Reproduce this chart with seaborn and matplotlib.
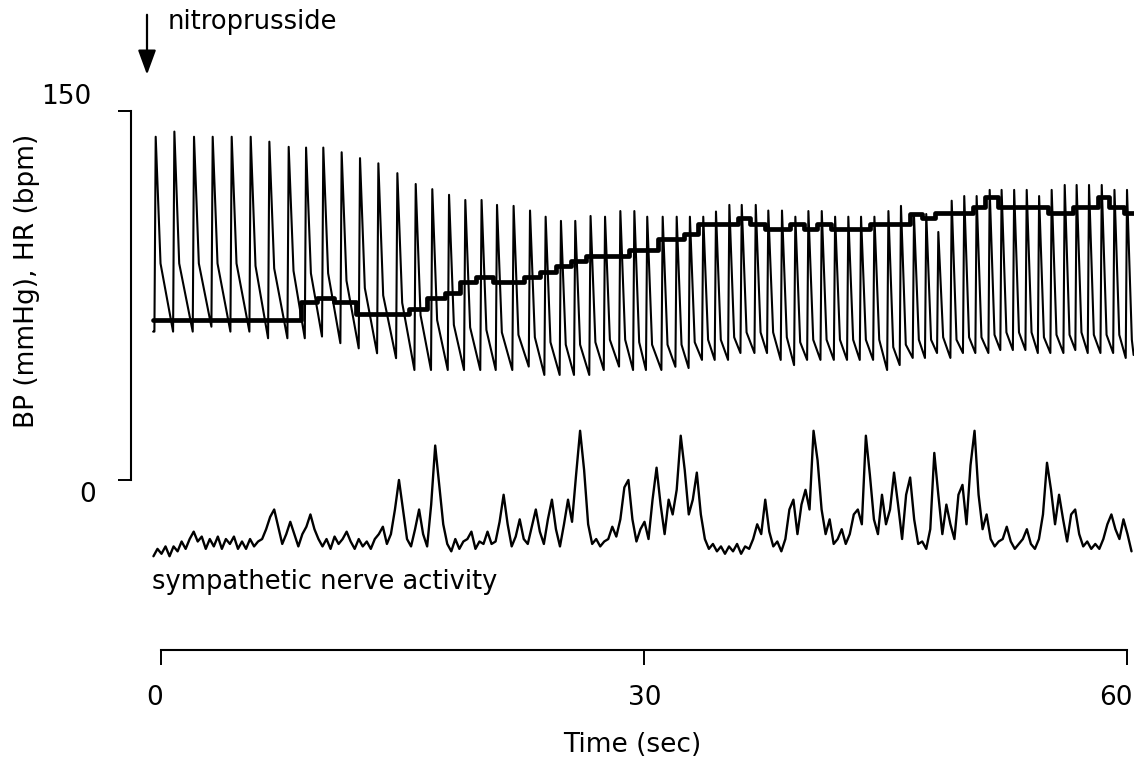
import numpy as np
import matplotlib
matplotlib.use("Agg")
import matplotlib.pyplot as plt
import matplotlib.transforms as mtransforms
import seaborn as sns

# 血壓 BP: 每一拍的收縮峰時間 (秒) 與數值 (mmHg)
beat_t = [-0.36, 0.80, 2.02, 3.18, 4.36, 5.54, 6.70, 7.90, 8.98, 10.05,
          11.19, 12.33, 13.47, 14.65, 15.79, 16.82, 17.86, 18.87, 19.88, 20.84,
          21.87, 22.89, 23.86, 24.81, 25.70, 26.65, 27.55, 28.50, 29.37, 30.17,
          31.13, 32.00, 32.82, 33.65, 34.44, 35.27, 36.04, 36.91, 37.69, 38.54,
          39.37, 40.18, 41.01, 41.84, 42.66, 43.45, 44.28, 45.15, 45.93, 46.74,
          47.50, 48.25, 49.08, 49.86, 50.63, 51.44, 52.18, 52.96, 53.74, 54.51,
          55.29, 56.10, 56.84, 57.61, 58.40, 59.19, 59.97]
bp_sys = [139.5, 141.6, 139.5, 139.5, 139.5, 139.5, 137.5, 135.4, 135.1, 135.1,
          133.2, 130.8, 128.7, 124.7, 120.3, 118.2, 115.9, 113.8, 113.8, 111.8,
          111.4, 109.5, 107.0, 105.3, 105.3, 107.3, 107.0, 109.3, 109.3, 107.0,
          107.0, 107.0, 107.0, 107.0, 109.1, 111.8, 111.8, 111.8, 109.5, 109.5,
          107.0, 109.3, 109.3, 107.0, 107.0, 107.0, 107.0, 109.3, 111.4, 107.3,
          108.1, 100.8, 113.5, 115.4, 115.4, 117.9, 117.9, 117.9, 117.9, 115.4,
          117.9, 119.9, 119.9, 119.9, 119.9, 117.9, 117.9]
bp_notch = [88, 88, 88, 88, 88, 87, 86, 85, 84, 84,
            81, 78, 75, 72, 67, 65, 63, 62, 61, 60,
            59, 58, 56, 55, 55, 56, 57, 57, 56, 55,
            55, 55, 56, 57, 57, 58, 60, 60, 60, 58,
            56, 57, 57, 57, 57, 57, 57, 54, 55, 57,
            57, 58, 57, 58, 58, 59, 60, 60, 60, 58,
            59, 59, 60, 59, 59, 59, 57]
bp_dia = [60.3, 60.3, 60.3, 62.3, 60.3, 60.3, 57.6, 57.6, 57.6, 58.3,
          55.6, 53.5, 51.5, 49.5, 44.7, 44.7, 44.7, 44.7, 44.7, 44.7,
          44.7, 46.1, 42.7, 42.7, 42.7, 42.7, 44.7, 46.1, 44.7, 44.7,
          44.7, 46.0, 45.5, 48.8, 48.8, 48.8, 51.6, 51.6, 51.6, 48.8,
          46.7, 48.8, 48.8, 48.8, 48.8, 48.8, 48.8, 44.7, 46.7, 49.6,
          49.6, 51.6, 49.6, 51.6, 51.6, 51.6, 52.8, 52.8, 52.8, 51.6,
          51.6, 51.6, 52.8, 51.6, 51.6, 51.6, 49.6]
bp_end = (60.38, 50.8)

# 心跳 HR: 階梯線 (秒, bpm)
hr_edges = [-0.50, 8.64, 9.68, 10.72, 12.06, 15.38, 16.52, 17.60, 18.55, 19.53,
            20.58, 22.53, 23.54, 24.50, 25.44, 26.34, 29.06, 30.83, 32.48, 33.35,
            35.80, 36.54, 37.46, 39.01, 39.93, 40.73, 41.56, 43.99, 46.47, 47.23,
            48.03, 50.40, 51.18, 51.93, 55.04, 56.63, 58.15, 58.86, 59.76, 60.38]
hr_level = [65.0, 72.2, 73.9, 72.2, 67.6, 69.4, 73.9, 76.0, 80.4, 82.5,
            80.5, 82.5, 84.7, 87.0, 89.0, 91.2, 93.5, 97.8, 100.0, 104.2,
            106.4, 104.2, 102.2, 104.2, 102.2, 104.2, 102.2, 104.2, 108.3, 106.4,
            108.4, 110.9, 114.9, 110.9, 108.4, 110.9, 114.9, 110.9, 108.4]

# 交感神經活性: 從 -0.5 秒起, 每 0.25 秒一點, 每列 1 秒
sna_t0 = -0.5
sna_dt = 0.25
sna_rows = [
    [-31, -28, -30, -27], [-31, -27, -29, -25], [-28, -24, -21, -25], [-23, -28, -24, -27],
    [-23, -28, -24, -26], [-23, -28, -25, -28], [-24, -27, -25, -24], [-20, -15, -12, -19],
    [-26, -22, -17, -22], [-27, -22, -19, -14], [-20, -24, -27, -24], [-28, -23, -26, -24],
    [-21, -25, -28, -24], [-27, -25, -28, -24], [-22, -19, -26, -22], [-12, 0, -12, -24],
    [-27, -20, -12, -22], [-27, -10, 14, -2], [-18, -26, -29, -24], [-28, -25, -24, -21],
    [-28, -25, -26, -21], [-26, -25, -17, -6], [-18, -27, -23, -16], [-24, -26, -19, -12],
    [-21, -26, -16, -8], [-20, -27, -18, -8], [-17, 2, 20, 4], [-18, -26, -24, -27],
    [-25, -24, -19, -23], [-16, -3, 0, -16], [-25, -20, -17, -24], [-8, 5, -10, -22],
    [-8, -14, -4, 18], [4, -14, -8, 3], [-14, -24, -28, -26], [-29, -27, -30, -27],
    [-29, -26, -30, -27], [-28, -24, -18, -22], [-8, -21, -27, -25], [-29, -24, -12, -8],
    [-22, -10, -4, -12], [20, 8, -12, -22], [-16, -26, -24, -20], [-26, -22, -14, -12],
    [-18, 18, 2, -16], [-22, -6, -18, -12], [3, -10, -24, -6], [1, -16, -26, -25],
    [-28, -20, 11, -6], [-22, -10, -18, -24], [-6, -2, -18, 6], [20, -6, -20, -14],
    [-24, -27, -25, -24], [-19, -25, -28, -26], [-24, -20, -26, -28], [-24, -14, 7, -4],
    [-18, -6, -16, -25], [-14, -12, -22, -27], [-25, -28, -26, -28], [-24, -18, -14, -20],
    [-24, -16, -22, -29],
]

# 組合 BP 波形: 起點 -> 收縮峰 -> 切跡 -> 下一拍起點
bp_x = [-0.52]
bp_y = [bp_dia[0]]
for i in range(len(beat_t)):
    bp_x += [beat_t[i] - 0.08, beat_t[i], beat_t[i] + 0.30]
    bp_y += [bp_dia[i], bp_sys[i], bp_notch[i]]
bp_x.append(bp_end[0])
bp_y.append(bp_end[1])

hr_y = hr_level + [hr_level[-1]]

sna_v = [v for row in sna_rows for v in row]
sna_x = sna_t0 + sna_dt * np.arange(len(sna_v))

sns.set_theme(style="white")
plt.rcParams["font.family"] = ["DejaVu Sans"]
plt.rcParams["text.color"] = "black"
plt.rcParams["axes.labelcolor"] = "black"
plt.rcParams["xtick.color"] = "black"
plt.rcParams["ytick.color"] = "black"

W, H = 1134, 762
fig = plt.figure(figsize=(W / 100, H / 100), dpi=100)
ax = fig.add_axes([131 / W, 1 - 650 / H, (W - 131) / W, (650 - 12) / H])

sns.lineplot(x=bp_x, y=bp_y, ax=ax, color="black", linewidth=1.5,
             estimator=None, sort=False)
sns.lineplot(x=hr_edges, y=hr_y, ax=ax, color="black", linewidth=3.4,
             estimator=None, sort=False, drawstyle="steps-post")
sns.lineplot(x=sna_x, y=sna_v, ax=ax, color="black", linewidth=1.7,
             estimator=None, sort=False)

ax.set_xlim(-1.894, 60.404)
ax.set_ylim(-69.1, 190.2)

for s in ["top", "right"]:
    ax.spines[s].set_visible(False)
ax.spines["left"].set_bounds(0, 150)
ax.spines["bottom"].set_bounds(0, 60)
ax.spines["left"].set_linewidth(1.5)
ax.spines["bottom"].set_linewidth(1.5)
ax.spines["left"].set_color("black")
ax.spines["bottom"].set_color("black")

ax.set_xticks([0, 30, 60])
ax.set_xticklabels(["0", "30", "60"])
ax.set_yticks([0, 150])
ax.set_yticklabels(["0", "150"])
ax.tick_params(axis="x", direction="out", length=11, width=1.4, pad=14,
               labelsize=19, colors="black", bottom=True)
ax.tick_params(axis="y", direction="out", length=9.5, width=1.4, pad=16,
               labelsize=19, colors="black", left=True)

# 0 與 150 的標籤上下錯開
ylabels = ax.get_yticklabels()
ylabels[0].set_transform(ylabels[0].get_transform() +
                         mtransforms.ScaledTranslation(0, -0.12, fig.dpi_scale_trans))
ylabels[1].set_transform(ylabels[1].get_transform() +
                         mtransforms.ScaledTranslation(-0.04, 0.17, fig.dpi_scale_trans))
# 60 往左移, 避免被右邊界切掉
xlabels = ax.get_xticklabels()
xlabels[0].set_transform(xlabels[0].get_transform() +
                         mtransforms.ScaledTranslation(-0.07, 0, fig.dpi_scale_trans))
xlabels[2].set_transform(xlabels[2].get_transform() +
                         mtransforms.ScaledTranslation(-0.12, 0, fig.dpi_scale_trans))

ax.set_xlabel("Time (sec)", fontsize=19, labelpad=15)
ax.set_ylabel("")
fig.text(27 / W, 1 - 281 / H, "BP (mmHg), HR (bpm)", rotation=90,
         ha="center", va="center", fontsize=19)

ax.annotate("", xy=(-0.90, 163.6), xytext=(-0.90, 190.2),
            arrowprops=dict(arrowstyle="-|>,head_length=0.6,head_width=0.22",
                            color="black", lw=1.6, mutation_scale=25),
            annotation_clip=False)
ax.text(0.40, 186.0, "nitroprusside", fontsize=18.5, ha="left", va="center")
ax.text(-0.59, -41.5, "sympathetic nerve activity", fontsize=18.5,
        ha="left", va="center")

fig.savefig("out.png", dpi=100)
